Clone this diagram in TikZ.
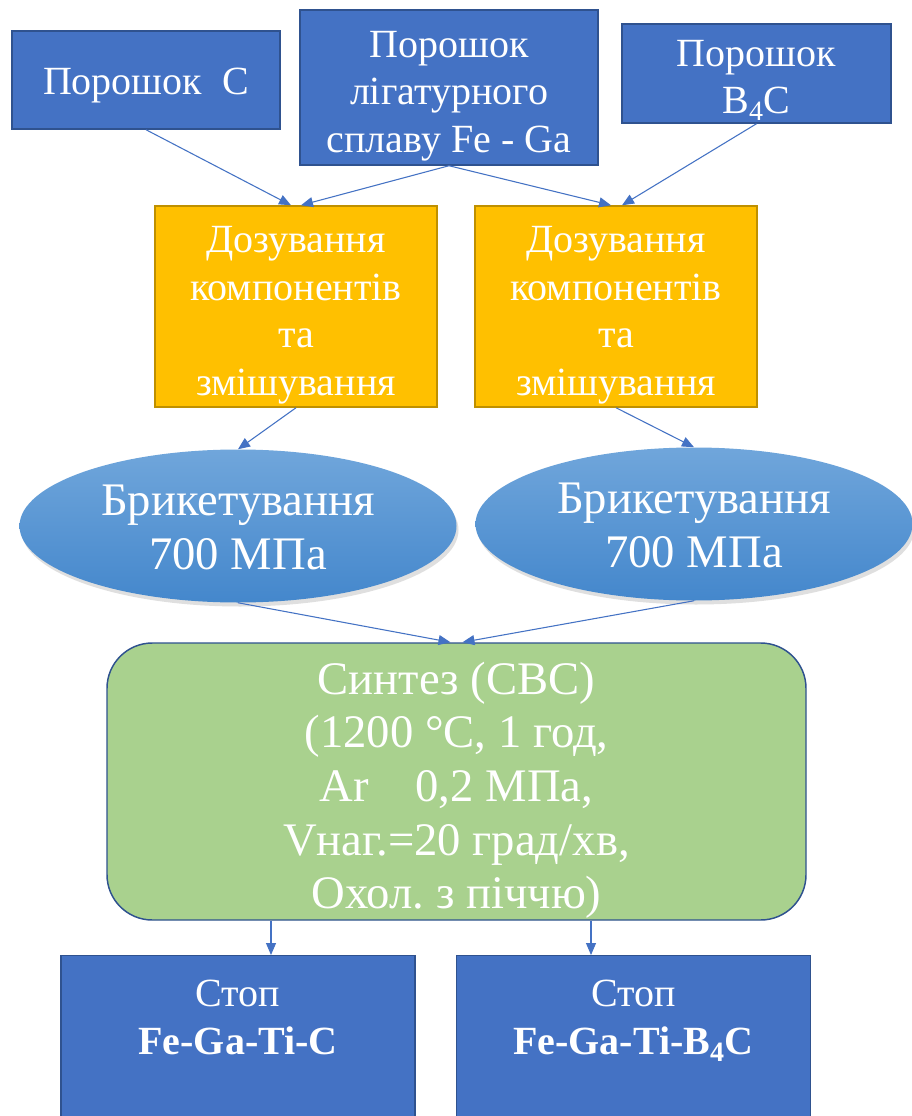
\documentclass[tikz,border=0pt]{standalone}
\usepackage{fontspec}
\setmainfont{Liberation Serif}
\usepackage{xcolor}
\usepackage{tikz}
\usetikzlibrary{shapes,arrows.meta,positioning,calc,shadows}

\definecolor{boxblue}{HTML}{4472C4}
\definecolor{boxedge}{HTML}{2F528F}
\definecolor{mixyellow}{HTML}{FFC000}
\definecolor{mixedge}{HTML}{BF9000}
\definecolor{synthgreen}{HTML}{A9D18E}
\definecolor{ovaltop}{HTML}{70A6DB}
\definecolor{ovalbot}{HTML}{4487CC}
\newcommand{\pxu}{0.75pt}
% taller first line, pushes the text block down a bit
\newcommand{\padtop}[1]{\rule{0pt}{#1}}
\frenchspacing

\begin{document}
\begin{tikzpicture}[x=0.75pt, y=-0.75pt,
    txt/.style={text=white, align=center, inner sep=0pt, font=\fontsize{30}{35.7}\selectfont},
    bigtxt/.style={font=\fontsize{35}{40.3}\selectfont},
    powder/.style={txt, rectangle, fill=boxblue, draw=boxedge, line width=1.1pt},
    mixbox/.style={txt, rectangle, fill=mixyellow, draw=mixedge, line width=1.1pt,
        minimum width=282*\pxu, minimum height=201*\pxu},
    oval/.style={txt, bigtxt, ellipse, top color=ovaltop, bottom color=ovalbot,
        minimum width=437*\pxu, minimum height=153*\pxu,
        drop shadow={opacity=0.25, shadow xshift=1.5pt, shadow yshift=-3pt}},
    synth/.style={txt, bigtxt, rectangle, rounded corners=34pt, fill=synthgreen, draw=boxedge,
        line width=1.1pt, minimum width=699*\pxu, minimum height=277*\pxu},
    alloy/.style={powder, minimum width=354*\pxu, minimum height=320*\pxu},
    flow/.style={draw=boxblue, line width=0.8pt, -{Triangle[length=9pt, width=7.5pt]}}]

    \fill[white] (0,0) rectangle (912,1116);
    \useasboundingbox (0,0) rectangle (912,1116);
    \clip (0,0) rectangle (912,1116);

    % powders
    \node[powder, minimum width=268*\pxu, minimum height=98*\pxu] (powC) at (146,80) {\padtop{0.94em}Порошок\ \ С};
    \node[powder, minimum width=298*\pxu, minimum height=155*\pxu] (powFeGa) at (449,87.5)
        {\padtop{1.09em}Порошок\\лігатурного\\сплаву Fe - Ga};
    \node[powder, minimum width=269*\pxu, minimum height=99*\pxu] (powB) at (756.5,73.5)
        {\padtop{1.0em}Порошок\\B\textsubscript{4}C};

    % dosing and mixing
    \node[mixbox] (mixL) at (296,306.5) {\padtop{1.09em}Дозування\\компонентів\\та\\змішування};
    \node[mixbox] (mixR) at (616,306.5) {\padtop{1.09em}Дозування\\компонентів\\та\\змішування};

    % pressing
    \node[oval] (pressL) at (238,526) {\padtop{0.72em}Брикетування\\700 МПа};
    \node[oval] (pressR) at (694,524) {\padtop{0.72em}Брикетування\\700 МПа};

    % SHS
    \node[synth] (shs) at (456.5,781.5)
        {\padtop{1.07em}Синтез (СВС)\\(1200 °C, 1 год,\\Ar\hspace{1em}0,2 МПа,\\Vнаг.=20 град/хв,\\Охол. з піччю)};

    % alloys
    \node[alloy, anchor=north] (alloyC) at (238,955) {};
    \node[alloy, anchor=north] (alloyB) at (633.5,955) {};
    \node[txt, anchor=north] (alloyCtxt) at ([yshift=-25*\pxu]alloyC.north) {Стоп\\\textbf{Fe-Ga-Ti-C}};
    \node[txt, anchor=north] (alloyBtxt) at ([yshift=-25*\pxu]alloyB.north) {Стоп\\\textbf{Fe-Ga-Ti-B\textsubscript{4}C}};

    \draw[flow] (powC.south) -- ([xshift=-5*\pxu]mixL.north);
    \draw[flow] (powFeGa.south) -- ([xshift=5*\pxu]mixL.north);
    \draw[flow] (powFeGa.south) -- ([xshift=-5*\pxu]mixR.north);
    \draw[flow] (powB.south) -- ([xshift=6*\pxu]mixR.north);
    \draw[flow] (mixL.south) -- (pressL.north);
    \draw[flow] (mixR.south) -- (pressR.north);
    \draw[flow] (pressL.south) -- ([xshift=-6*\pxu]shs.north);
    \draw[flow] (pressR.south) -- ([xshift=6*\pxu]shs.north);
    \draw[flow] ([xshift=33*\pxu]alloyC.north |- shs.south) -- ([xshift=33*\pxu]alloyC.north);
    \draw[flow] ([xshift=-42.5*\pxu]alloyB.north |- shs.south) -- ([xshift=-42.5*\pxu]alloyB.north);
\end{tikzpicture}
\end{document}
